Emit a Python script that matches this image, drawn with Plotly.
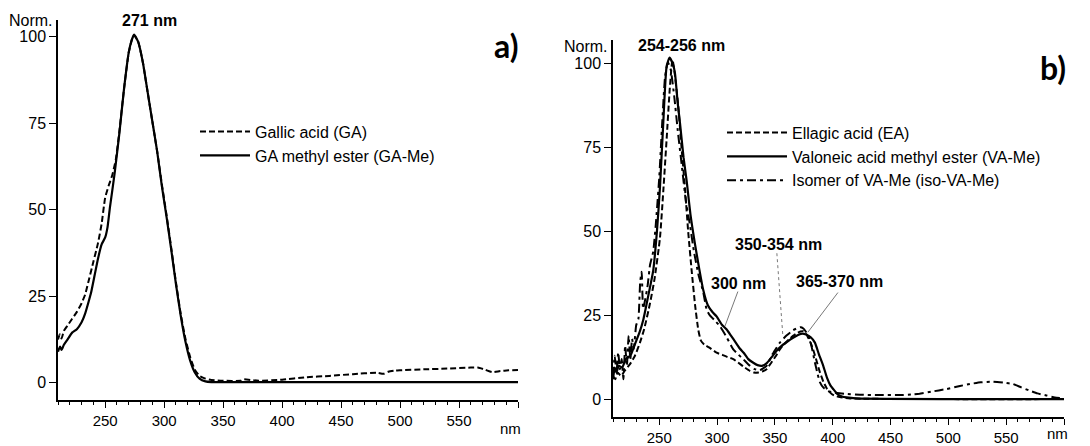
import plotly.graph_objects as go

# ---------------- Panel a) data ----------------
ga_wl = [210, 211.5, 213, 215, 218, 222, 226, 230, 233, 236, 240, 244, 247, 250, 253, 256, 259, 262,
         266, 270, 272.5, 274.5, 278, 282, 286, 290, 294, 298, 302, 306, 310, 314, 318, 322, 326, 330,
         335, 340, 350, 365, 367, 380, 400, 420, 440, 460, 480, 486, 490, 495, 500, 520, 540, 560,
         566, 572, 578, 585, 592, 600]
ga_val = [12.5, 14, 12.8, 15, 16.5, 18.5, 20.5, 23, 25.5, 29.5, 35, 40.5, 46, 53.5, 57, 60, 64.5, 72.5,
          85, 95.5, 99, 100.5, 98.5, 92.5, 84, 75.5, 67, 57.5, 48.5, 39, 29, 20, 12.8, 7.5, 3.8, 2.0,
          1.2, 0.8, 0.6, 0.6, 1.0, 0.6, 0.9, 1.6, 2.0, 2.5, 2.9, 2.6, 3.2, 3.5, 3.6, 3.9, 4.1, 4.4,
          4.4, 3.8, 3.1, 3.4, 3.6, 3.7]

game_wl = [210, 211.7, 213, 215, 218, 222, 226, 230, 233, 236, 238, 241, 244, 247, 250, 252, 254, 258,
           262, 266, 270, 272.5, 274.5, 278, 282, 286, 290, 294, 298, 302, 306, 310, 314, 318, 322, 326,
           330, 335, 340, 350, 400, 450, 500, 550, 600]
game_val = [9, 10.5, 9.5, 11, 12.5, 14.5, 15.5, 17.5, 20, 23.5, 26, 31, 36, 40, 42, 45, 50.6, 60.5,
            72, 85, 95.5, 99, 100.6, 98.5, 92.5, 84, 75.5, 67, 57, 48, 38.5, 28.5, 19.5, 12, 6.5, 3,
            1.2, 0.4, 0.2, 0.2, 0.2, 0.2, 0.2, 0.2, 0.2]

# ---------------- Panel b) data ----------------
ea_wl = [210, 212, 214, 217, 220, 224.7, 229, 233.3, 237, 242, 246, 250.6, 253.5, 256.4, 259, 260.7, 261.5,
         263, 266.4, 269, 272.2, 275, 278, 281, 283.7, 286, 289, 293, 299.6, 305, 309, 314, 320, 324,
         328.4, 332, 335.6, 339, 342.8, 347, 351, 354.3, 358, 362, 366, 369, 372, 374.5, 377, 380, 383,
         386, 389, 392, 395, 397.6, 401, 406, 415, 500, 600]
ea_val = [7, 6, 8, 7, 8.5, 10.5, 13, 16.9, 21, 28.6, 36, 48, 62, 77.6, 92, 99.2, 101,
          98, 87.4, 76, 63, 50, 38.4, 28, 20.8, 17.5, 16.3, 15.5, 13.9, 13.2, 12.6, 12, 10.5, 9.5,
          8.5, 8, 8, 8.3, 9, 11, 13, 14.9, 16.5, 17.8, 19, 19.7, 20.2, 20.3, 19.5, 17.5, 14.9,
          11.5, 8, 5.2, 3.2, 2.1, 1.2, 0.7, 0.3, 0.1, 0.1]

vame_wl = [210, 211.5, 213, 215, 218, 221, 225, 229, 233, 236.2, 240, 244.8, 248, 250.6, 253.5, 256.4, 259,
           262, 263.6, 266, 268, 271, 273.7, 277, 281, 284.5, 288, 292, 296, 299.6, 304, 308.3, 312, 316,
           320, 323, 327, 331, 335, 339, 343, 347, 351.5, 356, 360, 365, 370, 374, 377, 381, 384.6, 388,
           391.8, 395, 398, 400.4, 404, 408, 412, 420, 500, 600]
vame_val = [6, 9.5, 8, 10, 9.5, 12, 13, 16.5, 20, 23.7, 30, 38.4, 50, 63, 82.5, 99.2, 101.7,
            99.5, 97, 88, 82, 72, 65, 55, 46, 39, 32.6, 28, 26, 24.7, 22.3, 20.8, 19, 17,
            15, 13.9, 12, 11, 10.2, 10, 10.8, 12.5, 14.5, 16, 17, 18.2, 19.2, 19.6, 19.3, 18.5, 16.9, 13.5,
            10, 6.5, 4.2, 3.1, 1.6, 0.9, 0.6, 0.3, 0.1, 0.1]

iso_wl = [210, 211.5, 213, 214.5, 216, 217.5, 219, 220.5, 222, 223.5, 225, 226.5, 228, 230, 232, 233.5,
          234.8, 236, 238, 240, 242, 244.8, 247, 250, 252.5, 255, 257.5, 260, 263, 266, 270, 273, 276.5,
          280, 284, 288, 291, 293.8, 298, 302.5, 308.3, 314, 318, 322.6, 328.4, 332.7, 337, 342.8, 348,
          354.3, 360, 365.8, 370, 372.5, 375, 378, 380.3, 382.5, 384.6, 387, 389, 392, 396, 400, 410,
          423.5, 440, 458, 470, 475, 485, 498.4, 510, 518.6, 528, 538.7, 548, 556, 563, 570.4, 577,
          584.8, 592, 600]
iso_val = [7, 13, 8, 14, 9, 12, 6, 16, 10, 19, 12, 18, 15, 22, 24, 35,
           38, 27, 30, 34, 40, 44, 52, 66, 82, 96, 100.3, 98, 90, 80, 68, 59, 52,
           44, 37, 32, 26.7, 25, 23.5, 21.8, 18.5, 14.9, 13.5, 12, 10, 9, 8.7, 10, 13.5,
           16.9, 19, 20.6, 21.3, 21.5, 21, 19.5, 17.9, 14.5, 11, 7.5, 5.1, 3.5, 2.5, 2.1, 1.7,
           1.4, 1.3, 1.3, 1.5, 1.7, 2.3, 3.1, 4.0, 4.6, 5.1, 5.3, 5.0, 4.6, 3.6, 2.6, 1.8,
           1.2, 0.6, 0.3]

x_tickvals = [250, 300, 350, 400, 450, 500, 550, 600]
x_ticktext = ["250", "300", "350", "400", "450", "500", "550", ""]
y_tickvals = [0, 25, 50, 75, 100]

W, H = 1090, 446
FONT = "Liberation Sans, Arial, sans-serif"


def px(x):
    return x / W


def py(y):
    return 1 - y / H


fig = go.Figure()

fig.add_trace(go.Scatter(x=ga_wl, y=ga_val, mode="lines", name="Gallic acid (GA)",
                         line=dict(color="black", width=2, dash="6px,3px", shape="spline", smoothing=0.5),
                         xaxis="x", yaxis="y", legend="legend", legendgroup="a1"))
fig.add_trace(go.Scatter(x=game_wl, y=game_val, mode="lines", name="GA methyl ester (GA-Me)",
                         line=dict(color="black", width=2.2, shape="spline", smoothing=0.5),
                         xaxis="x", yaxis="y", legend="legend", legendgroup="a2"))

fig.add_trace(go.Scatter(x=ea_wl, y=ea_val, mode="lines", name="Ellagic acid (EA)",
                         line=dict(color="black", width=2, dash="6px,3px", shape="spline", smoothing=0.5),
                         xaxis="x2", yaxis="y2", legend="legend2", legendgroup="b1"))
fig.add_trace(go.Scatter(x=vame_wl, y=vame_val, mode="lines", name="Valoneic acid methyl ester (VA-Me)",
                         line=dict(color="black", width=2.2, shape="spline", smoothing=0.5),
                         xaxis="x2", yaxis="y2", legend="legend2", legendgroup="b2"))
fig.add_trace(go.Scatter(x=iso_wl, y=iso_val, mode="lines", name="Isomer of VA-Me (iso-VA-Me)",
                         line=dict(color="black", width=2, dash="9px,4px,3px,4px", shape="spline", smoothing=0.4),
                         xaxis="x2", yaxis="y2", legend="legend2", legendgroup="b3"))

xcommon = dict(range=[210, 600], showline=True, linecolor="black", linewidth=1.5,
               ticks="outside", ticklen=6, tickwidth=1.2, tickcolor="black",
               tickmode="array", tickvals=x_tickvals, ticktext=x_ticktext,
               minor=dict(ticks="outside", tickmode="linear", tick0=0, dtick=10, ticklen=3,
                          tickwidth=1, tickcolor="black", showgrid=False),
               showgrid=False, zeroline=False,
               tickfont=dict(family=FONT, size=15, color="black"))
ycommon = dict(showline=True, linecolor="black", linewidth=1.5,
               ticks="outside", ticklen=7, tickwidth=1.2, tickcolor="black",
               tickmode="array", tickvals=y_tickvals,
               showgrid=False, zeroline=False,
               tickfont=dict(family=FONT, size=16, color="black"))

fig.update_layout(
    width=W, height=H,
    margin=dict(l=0, r=0, t=0, b=0),
    paper_bgcolor="white", plot_bgcolor="white",
    font=dict(family=FONT, size=16, color="black"),
    xaxis=dict(domain=[px(58), px(518)], anchor="y", **xcommon),
    yaxis=dict(domain=[py(405), py(20)], anchor="x", range=[-5.1, 104.9], **ycommon),
    xaxis2=dict(domain=[px(613), px(1064)], anchor="y2", **xcommon),
    yaxis2=dict(domain=[py(422), py(40)], anchor="x2", range=[-5.3, 107.06], **ycommon),
    legend=dict(x=px(195), y=py(116), xanchor="left", yanchor="top",
                bgcolor="rgba(0,0,0,0)", borderwidth=0, itemwidth=50,
                tracegroupgap=0, traceorder="grouped",
                font=dict(family=FONT, size=16, color="black")),
    legend2=dict(x=px(722), y=py(117), xanchor="left", yanchor="top",
                 bgcolor="rgba(0,0,0,0)", borderwidth=0, itemwidth=60,
                 tracegroupgap=0, traceorder="grouped",
                 font=dict(family=FONT, size=16, color="black")),
    showlegend=True,
)

ann = []


def add_text(text, x, y, size=16, bold=False, xanchor="center", family=FONT):
    ann.append(dict(text=("<b>%s</b>" % text) if bold else text, x=px(x), y=py(y),
                    xref="paper", yref="paper", xanchor=xanchor, yanchor="middle",
                    showarrow=False, font=dict(family=family, size=size, color="black")))


add_text("Norm.", 55, 21, xanchor="right")
add_text("271 nm", 149, 21, bold=True)
add_text("a)", 506, 46, size=32, bold=True, family="Lato, Open Sans, sans-serif")
add_text("nm", 510, 433, size=15)

add_text("Norm.", 610, 47, xanchor="right")
add_text("254-256 nm", 681, 46, bold=True)
add_text("b)", 1053, 68, size=32, bold=True, family="Lato, Open Sans, sans-serif")
add_text("nm", 1057, 438, size=15)
add_text("300 nm", 738, 287, bold=True)
add_text("350-354 nm", 778, 247, bold=True)
add_text("365-370 nm", 839, 285, bold=True)

fig.update_layout(annotations=ann)

# leader lines for the band labels (panel b)
leaders = [
    dict(x0=318.0, y0=32.1, x1=306.8, y1=21.8, dash="solid"),
    dict(x0=351.7, y0=43.5, x1=356.9, y1=18.8, dash="dot"),
    dict(x0=404.5, y0=31.8, x1=378.5, y1=20.0, dash="solid"),
]
for ld in leaders:
    fig.add_shape(type="line", xref="x2", yref="y2", x0=ld["x0"], y0=ld["y0"], x1=ld["x1"], y1=ld["y1"],
                  line=dict(color="#555555", width=0.8, dash=ld["dash"]))

fig.write_html("out.html", config={"displayModeBar": False},
               post_script="document.body.style.margin='0';document.body.style.overflow='hidden';")
